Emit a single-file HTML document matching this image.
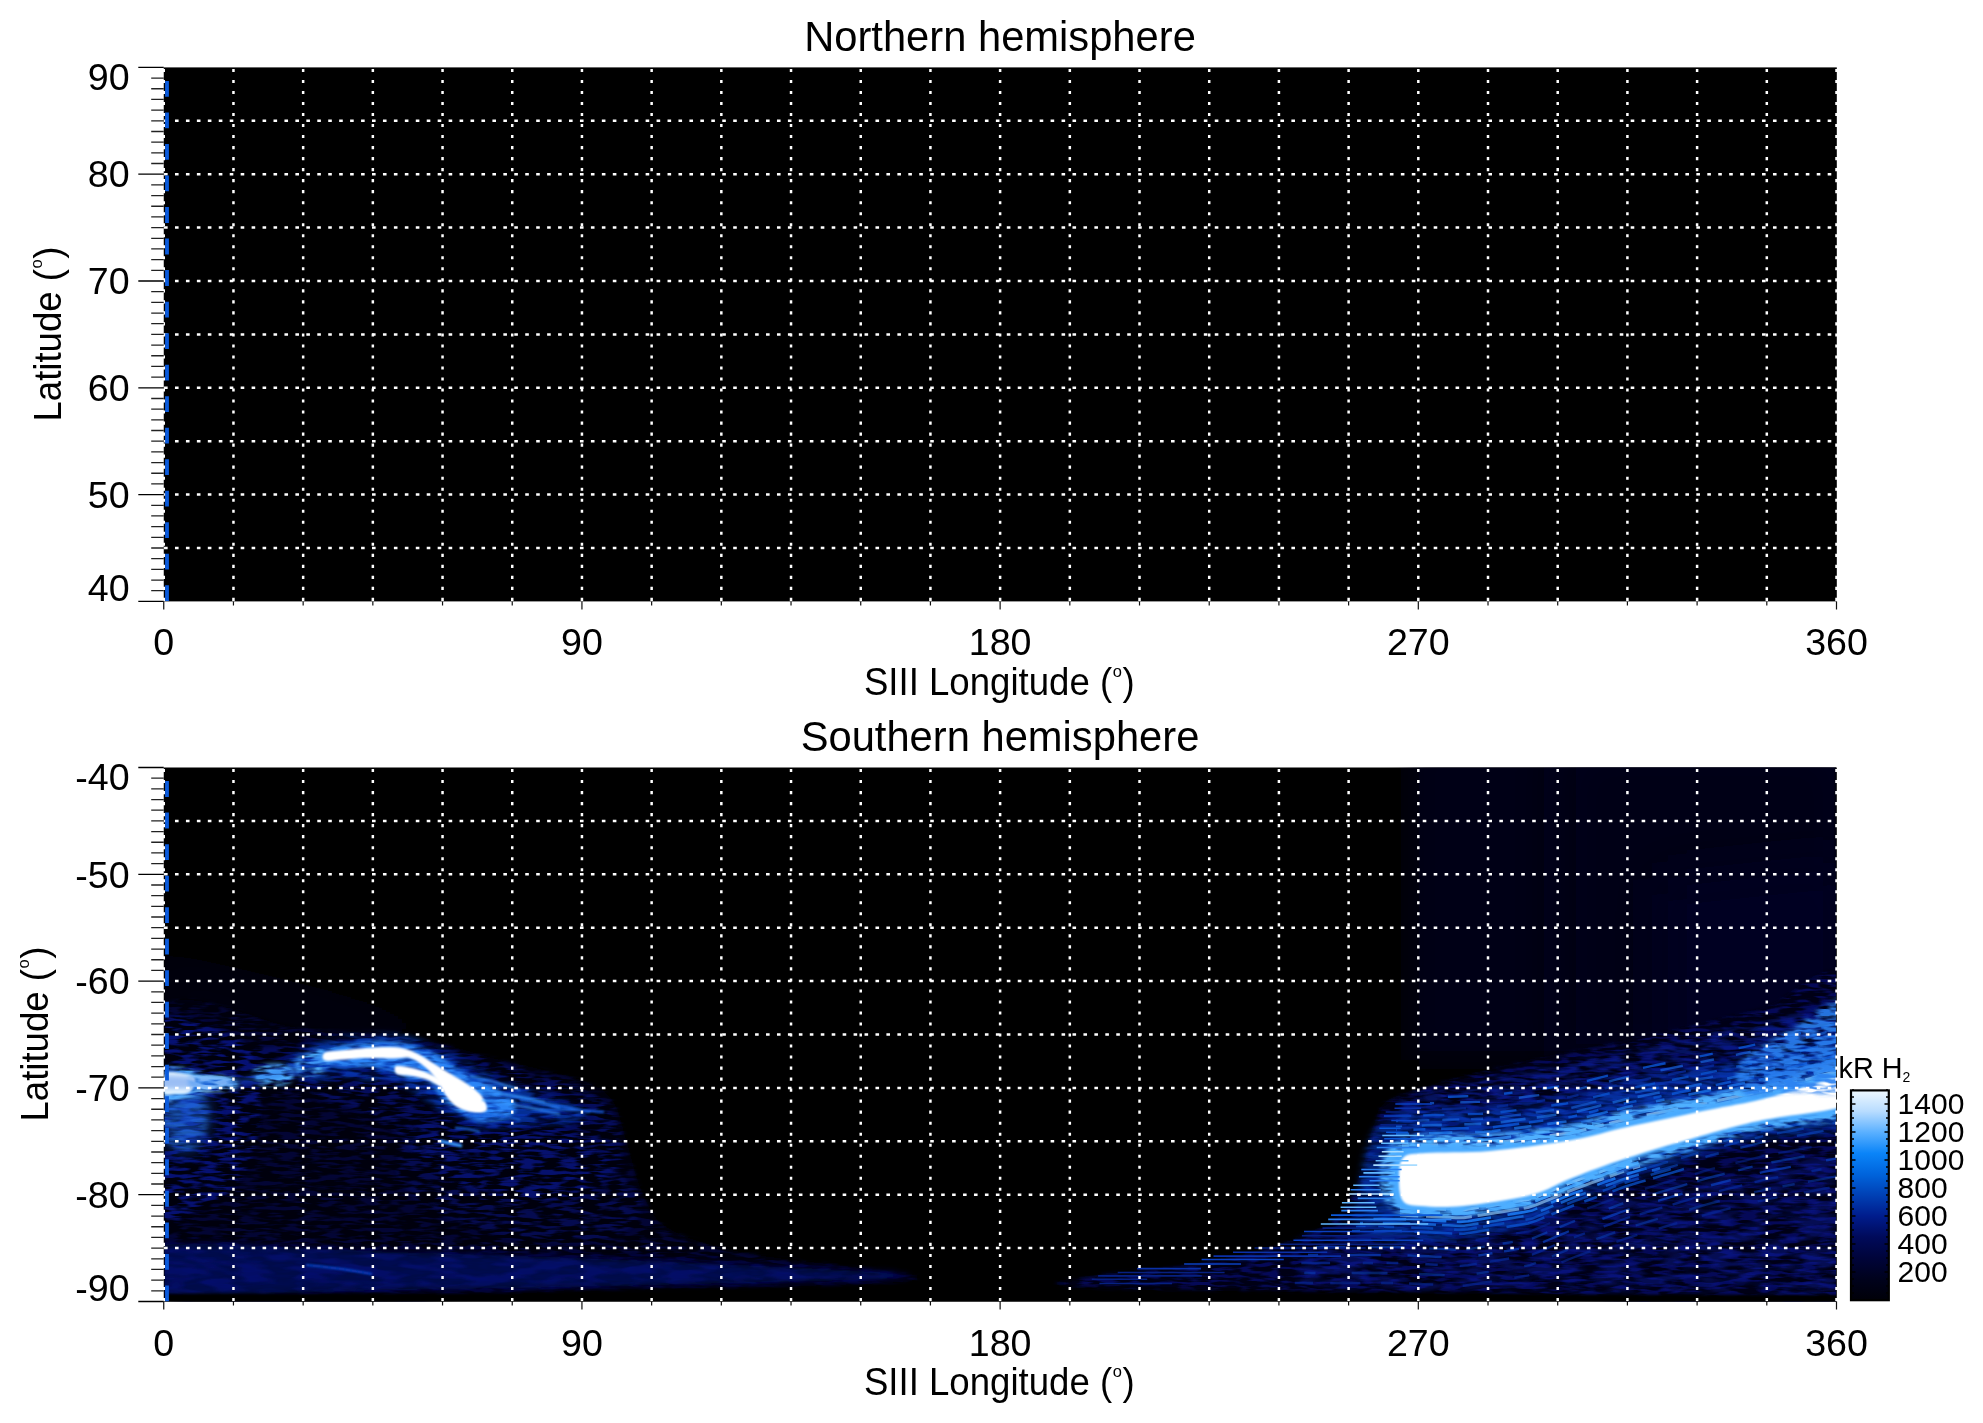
<!DOCTYPE html>
<html><head><meta charset="utf-8"><title>Aurora map</title>
<style>
html,body{margin:0;padding:0;background:#fff;width:1983px;height:1423px;overflow:hidden}
svg{display:block;will-change:transform}
text{font-family:"Liberation Sans", sans-serif;fill:#000}
.tl{font-size:37.6px}
.al{font-size:36.6px}
.ti{font-size:41.7px}
.cl{font-size:30px}
</style></head><body>
<svg width="1983" height="1423" viewBox="0 0 1983 1423">
<rect x="163.75" y="67.4" width="1673.05" height="534" fill="#000"/>

<path d="M164.05 120.8H1836.5M164.05 174.2H1836.5M164.05 227.6H1836.5M164.05 281H1836.5M164.05 334.4H1836.5M164.05 387.8H1836.5M164.05 441.2H1836.5M164.05 494.6H1836.5M164.05 548H1836.5" stroke="#fff" stroke-width="2.5" stroke-dasharray="3.6 7.345" fill="none"/>
<path d="M163.75 68.9V601.4M233.45 68.9V601.4M303.15 68.9V601.4M372.84 68.9V601.4M442.54 68.9V601.4M512.24 68.9V601.4M581.94 68.9V601.4M651.64 68.9V601.4M721.33 68.9V601.4M791.03 68.9V601.4M860.73 68.9V601.4M930.43 68.9V601.4M1000.12 68.9V601.4M1069.82 68.9V601.4M1139.52 68.9V601.4M1209.22 68.9V601.4M1278.92 68.9V601.4M1348.61 68.9V601.4M1418.31 68.9V601.4M1488.01 68.9V601.4M1557.71 68.9V601.4M1627.41 68.9V601.4M1697.1 68.9V601.4M1766.8 68.9V601.4M1836.5 68.9V601.4" stroke="#fff" stroke-width="2.5" stroke-dasharray="3.1 7.92" fill="none"/>
<line x1="167" y1="81" x2="167" y2="601.4" stroke="#0a5adc" stroke-width="3.8" stroke-dasharray="15.8 15.72"/>
<path d="M138.3 67.4H163.75M138.3 174.2H163.75M138.3 281H163.75M138.3 387.8H163.75M138.3 494.6H163.75M138.3 601.4H163.75" stroke="#000" stroke-width="1.3" fill="none"/>
<path d="M151.2 78.08H163.75M151.2 88.76H163.75M151.2 99.44H163.75M151.2 110.12H163.75M151.2 120.8H163.75M151.2 131.48H163.75M151.2 142.16H163.75M151.2 152.84H163.75M151.2 163.52H163.75M151.2 184.88H163.75M151.2 195.56H163.75M151.2 206.24H163.75M151.2 216.92H163.75M151.2 227.6H163.75M151.2 238.28H163.75M151.2 248.96H163.75M151.2 259.64H163.75M151.2 270.32H163.75M151.2 291.68H163.75M151.2 302.36H163.75M151.2 313.04H163.75M151.2 323.72H163.75M151.2 334.4H163.75M151.2 345.08H163.75M151.2 355.76H163.75M151.2 366.44H163.75M151.2 377.12H163.75M151.2 398.48H163.75M151.2 409.16H163.75M151.2 419.84H163.75M151.2 430.52H163.75M151.2 441.2H163.75M151.2 451.88H163.75M151.2 462.56H163.75M151.2 473.24H163.75M151.2 483.92H163.75M151.2 505.28H163.75M151.2 515.96H163.75M151.2 526.64H163.75M151.2 537.32H163.75M151.2 548H163.75M151.2 558.68H163.75M151.2 569.36H163.75M151.2 580.04H163.75M151.2 590.72H163.75" stroke="#222" stroke-width="1.3" fill="none"/>
<path d="M163.75 601.4V609.4M233.45 601.4V605.4M303.15 601.4V605.4M372.84 601.4V605.4M442.54 601.4V605.4M512.24 601.4V605.4M581.94 601.4V609.4M651.64 601.4V605.4M721.33 601.4V605.4M791.03 601.4V605.4M860.73 601.4V605.4M930.43 601.4V605.4M1000.12 601.4V609.4M1069.82 601.4V605.4M1139.52 601.4V605.4M1209.22 601.4V605.4M1278.92 601.4V605.4M1348.61 601.4V605.4M1418.31 601.4V609.4M1488.01 601.4V605.4M1557.71 601.4V605.4M1627.41 601.4V605.4M1697.1 601.4V605.4M1766.8 601.4V605.4M1836.5 601.4V609.4" stroke="#111" stroke-width="1.2" fill="none"/>
<text x="129.6" y="89.8" text-anchor="end" class="tl">90</text>
<text x="129.6" y="187.4" text-anchor="end" class="tl">80</text>
<text x="129.6" y="294.2" text-anchor="end" class="tl">70</text>
<text x="129.6" y="401" text-anchor="end" class="tl">60</text>
<text x="129.6" y="507.8" text-anchor="end" class="tl">50</text>
<text x="129.6" y="601.2" text-anchor="end" class="tl">40</text>
<text x="163.75" y="655.4" text-anchor="middle" class="tl">0</text>
<text x="581.94" y="655.4" text-anchor="middle" class="tl">90</text>
<text x="1000.12" y="655.4" text-anchor="middle" class="tl">180</text>
<text x="1418.31" y="655.4" text-anchor="middle" class="tl">270</text>
<text x="1836.5" y="655.4" text-anchor="middle" class="tl">360</text>
<text transform="translate(999.3 694.9) scale(1 1.045)" text-anchor="middle" class="al">SIII Longitude (<tspan font-size="16.5" dy="-17.6" dx="0.6">o</tspan><tspan dy="17.6" dx="0.6">)</tspan></text>
<text transform="translate(1000 50.85) scale(1 1.025)" text-anchor="middle" class="ti">Northern hemisphere</text>
<text transform="translate(60.8 334) rotate(-90) scale(1 1.045)" text-anchor="middle" class="al">Latitude (<tspan font-size="16.5" dy="-17.6" dx="0.6">o</tspan><tspan dy="17.6" dx="0.6">)</tspan></text>
<rect x="163.75" y="767.5" width="1673.05" height="534" fill="#000"/>
<defs>
<clipPath id="clipS"><rect x="164.6" y="767.5" width="1671.4" height="534"/></clipPath>
<filter id="b1" filterUnits="userSpaceOnUse" x="100" y="700" width="1800" height="650"><feGaussianBlur stdDeviation="1"/></filter>
<filter id="b2" filterUnits="userSpaceOnUse" x="100" y="700" width="1800" height="650"><feGaussianBlur stdDeviation="2"/></filter>
<filter id="b3" filterUnits="userSpaceOnUse" x="100" y="700" width="1800" height="650"><feGaussianBlur stdDeviation="3"/></filter>
<filter id="b5" filterUnits="userSpaceOnUse" x="100" y="700" width="1800" height="650"><feGaussianBlur stdDeviation="5"/></filter>
<filter id="b8" filterUnits="userSpaceOnUse" x="100" y="700" width="1800" height="650"><feGaussianBlur stdDeviation="8"/></filter>
<filter id="b14" filterUnits="userSpaceOnUse" x="100" y="700" width="1800" height="650"><feGaussianBlur stdDeviation="14"/></filter>
<filter id="b24" filterUnits="userSpaceOnUse" x="100" y="700" width="1800" height="650"><feGaussianBlur stdDeviation="24"/></filter>
<filter id="tA" filterUnits="userSpaceOnUse" x="100" y="700" width="1800" height="650"><feGaussianBlur in="SourceGraphic" stdDeviation="2" result="bl"/><feTurbulence type="fractalNoise" baseFrequency="0.05 0.28" numOctaves="2" seed="3" result="n"/><feColorMatrix in="n" type="matrix" values="0 0 0 0 1  0 0 0 0 1  0 0 0 0 1  5.0 0 0 0 -2.2" result="m"/><feComposite in="bl" in2="m" operator="in"/></filter>
<filter id="tB" filterUnits="userSpaceOnUse" x="100" y="700" width="1800" height="650"><feGaussianBlur in="SourceGraphic" stdDeviation="3" result="bl"/><feTurbulence type="fractalNoise" baseFrequency="0.045 0.22" numOctaves="2" seed="8" result="n"/><feColorMatrix in="n" type="matrix" values="0 0 0 0 1  0 0 0 0 1  0 0 0 0 1  4.0 0 0 0 -1.5" result="m"/><feComposite in="bl" in2="m" operator="in"/></filter>
<filter id="tC" filterUnits="userSpaceOnUse" x="100" y="700" width="1800" height="650"><feGaussianBlur in="SourceGraphic" stdDeviation="2" result="bl"/><feTurbulence type="fractalNoise" baseFrequency="0.06 0.25" numOctaves="2" seed="17" result="n"/><feColorMatrix in="n" type="matrix" values="0 0 0 0 1  0 0 0 0 1  0 0 0 0 1  3.5 0 0 0 -1.1" result="m"/><feComposite in="bl" in2="m" operator="in"/></filter>
<filter id="tD" filterUnits="userSpaceOnUse" x="100" y="700" width="1800" height="650"><feGaussianBlur in="SourceGraphic" stdDeviation="4" result="bl"/><feTurbulence type="fractalNoise" baseFrequency="0.03 0.12" numOctaves="2" seed="29" result="n"/><feColorMatrix in="n" type="matrix" values="0 0 0 0 1  0 0 0 0 1  0 0 0 0 1  4.0 0 0 0 -1.6" result="m"/><feComposite in="bl" in2="m" operator="in"/></filter>
</defs>
<g clip-path="url(#clipS)">
<path d="M150 950 C260 970 400 1010 520 1040 L150 1045Z" fill="#00000e" filter="url(#b24)"/>
<path d="M1410 740 L1850 740 L1850 1060 L1410 1060Z" fill="#000014" filter="url(#b14)"/>
<path d="M1560 740 L1850 740 L1850 1060 L1560 1060Z" fill="#000018" filter="url(#b24)"/>
<path d="M1660 880 L1850 860 L1850 1060 L1660 1060Z" fill="#000020" filter="url(#b24)"/>
<path d="M150 1018 C175 974 255 1024.3 300 1028 C345 1031.7 386.7 1034.7 420 1040 C453.3 1045.3 473.3 1053.3 500 1060 C526.7 1066.7 561.3 1073.3 580 1080 C598.7 1086.7 604.3 1090 612 1100 C619.7 1110 621 1124.7 626 1140 C631 1155.3 635 1177.3 642 1192 C649 1206.7 651.7 1218 668 1228 C684.3 1238 708 1245.3 740 1252 C772 1258.7 830 1263.8 860 1268 C890 1272.2 920 1274.3 920 1277 C920 1279.7 913.3 1282 860 1284 C806.7 1286 718.3 1287.7 600 1289 C481.7 1290.3 225 1337.2 150 1292 C75 1246.8 125 1062 150 1018Z" fill="#000210" filter="url(#b2)"/>
<path d="M1090 1277 C1108.3 1273.2 1166.7 1269.8 1200 1264 C1233.3 1258.2 1266.7 1250.3 1290 1242 C1313.3 1233.7 1328 1225.7 1340 1214 C1352 1202.3 1356 1187.3 1362 1172 C1368 1156.7 1370.3 1134.3 1376 1122 C1381.7 1109.7 1375.3 1107 1396 1098 C1416.7 1089 1457.7 1078.3 1500 1068 C1542.3 1057.7 1606.7 1045.7 1650 1036 C1693.3 1026.3 1726.7 1017.7 1760 1010 C1793.3 1002.3 1835 942.5 1850 990 C1865 1037.5 1908.3 1244.5 1850 1295 C1791.7 1345.5 1626.7 1294.3 1500 1293 C1373.3 1291.7 1158.3 1289.7 1090 1287 C1021.7 1284.3 1071.7 1280.8 1090 1277Z" fill="#000418" filter="url(#b2)"/>
<path d="M150 1018 C175 974 255 1024.3 300 1028 C345 1031.7 386.7 1034.7 420 1040 C453.3 1045.3 473.3 1053.3 500 1060 C526.7 1066.7 561.3 1073.3 580 1080 C598.7 1086.7 604.3 1090 612 1100 C619.7 1110 621 1124.7 626 1140 C631 1155.3 635 1177.3 642 1192 C649 1206.7 651.7 1218 668 1228 C684.3 1238 708 1245.3 740 1252 C772 1258.7 830 1263.8 860 1268 C890 1272.2 920 1274.3 920 1277 C920 1279.7 913.3 1282 860 1284 C806.7 1286 718.3 1287.7 600 1289 C481.7 1290.3 225 1337.2 150 1292 C75 1246.8 125 1062 150 1018Z" fill="#0818a8" filter="url(#tA)" opacity="0.26"/>
<path d="M1090 1277 C1108.3 1273.2 1166.7 1269.8 1200 1264 C1233.3 1258.2 1266.7 1250.3 1290 1242 C1313.3 1233.7 1328 1225.7 1340 1214 C1352 1202.3 1356 1187.3 1362 1172 C1368 1156.7 1370.3 1134.3 1376 1122 C1381.7 1109.7 1375.3 1107 1396 1098 C1416.7 1089 1457.7 1078.3 1500 1068 C1542.3 1057.7 1606.7 1045.7 1650 1036 C1693.3 1026.3 1726.7 1017.7 1760 1010 C1793.3 1002.3 1835 942.5 1850 990 C1865 1037.5 1908.3 1244.5 1850 1295 C1791.7 1345.5 1626.7 1294.3 1500 1293 C1373.3 1291.7 1158.3 1289.7 1090 1287 C1021.7 1284.3 1071.7 1280.8 1090 1277Z" fill="#0818a8" filter="url(#tA)" opacity="0.45"/>
<path d="M150 1030 C163.3 1000.7 211.7 1025.7 230 1034 C248.3 1042.3 256.7 1059 260 1080 C263.3 1101 257.5 1140 250 1160 C242.5 1180 231.7 1191.7 215 1200 C198.3 1208.3 160.8 1238.3 150 1210 C139.2 1181.7 136.7 1059.3 150 1030Z" fill="#0a24c0" filter="url(#tA)" opacity="0.45"/>
<path d="M250 1050 C270 1042.7 375 1042.7 420 1046 C465 1049.3 490 1061 520 1070 C550 1079 583.3 1085 600 1100 C616.7 1115 626.7 1143.3 620 1160 C613.3 1176.7 588.3 1196.7 560 1200 C531.7 1203.3 480 1193.3 450 1180 C420 1166.7 405 1135 380 1120 C355 1105 321.7 1101.7 300 1090 C278.3 1078.3 230 1057.3 250 1050Z" fill="#0a24c0" filter="url(#tA)" opacity="0.28"/>
<path d="M430 1120 C456.7 1111.7 525 1116.7 560 1130 C595 1143.3 633.3 1181.7 640 1200 C646.7 1218.3 626.7 1235 600 1240 C573.3 1245 513.3 1240 480 1230 C446.7 1220 408.3 1198.3 400 1180 C391.7 1161.7 403.3 1128.3 430 1120Z" fill="#0a20b0" filter="url(#tA)" opacity="0.22"/>
<path d="M150 1246 C191.7 1239.3 308.3 1249.2 400 1252 C491.7 1254.8 614.7 1259 700 1263 C785.3 1267 912 1272.5 912 1276 C912 1279.5 785.3 1281.7 700 1284 C614.7 1286.3 491.7 1288.7 400 1290 C308.3 1291.3 191.7 1299.3 150 1292 C108.3 1284.7 108.3 1252.7 150 1246Z" fill="#000a54" filter="url(#b3)" opacity="0.85"/>
<path d="M150 1246 C191.7 1239.3 308.3 1249.2 400 1252 C491.7 1254.8 614.7 1259 700 1263 C785.3 1267 912 1272.5 912 1276 C912 1279.5 785.3 1281.7 700 1284 C614.7 1286.3 491.7 1288.7 400 1290 C308.3 1291.3 191.7 1299.3 150 1292 C108.3 1284.7 108.3 1252.7 150 1246Z" fill="#0818a8" filter="url(#tD)" opacity="0.3"/>
<ellipse cx="184" cy="1115" rx="26" ry="38" fill="#1a68f0" filter="url(#b8)" opacity="0.45"/>
<ellipse cx="184" cy="1115" rx="24" ry="36" fill="#2a80f8" filter="url(#tB)" opacity="0.5"/>
<path d="M1300 1236 C1450 1238 1650 1190 1850 1150 L1850 1293 C1600 1291 1400 1290 1300 1286Z" fill="#0a24b0" filter="url(#tD)" opacity="0.4"/>
<path d="M1400 1098 C1550 1066 1700 1040 1850 1000 L1850 1110 C1700 1130 1550 1145 1400 1150Z" fill="#0a2ab8" filter="url(#tB)" opacity="0.45"/>
<path d="M1358 1205 C1359.3 1189.3 1363 1155.2 1370 1140 C1377 1124.8 1380 1119 1400 1114 C1420 1109 1461.3 1112.7 1490 1110 C1518.7 1107.3 1549.2 1102.5 1572 1098 C1594.8 1093.5 1604.3 1088 1627 1083 C1649.7 1078 1685.3 1072.5 1708 1068 C1730.7 1063.5 1739.3 1061.3 1763 1056 C1786.7 1050.7 1835.5 1025 1850 1036 C1864.5 1047 1864.5 1105 1850 1122 C1835.5 1139 1786.7 1133 1763 1138 C1739.3 1143 1730.7 1145 1708 1152 C1685.3 1159 1649.7 1171.7 1627 1180 C1604.3 1188.3 1588 1195 1572 1202 C1556 1209 1549.2 1216 1531 1222 C1512.8 1228 1484.8 1235 1463 1238 C1441.2 1241 1416.8 1240.7 1400 1240 C1383.2 1239.3 1369 1239.8 1362 1234 C1355 1228.2 1356.7 1220.7 1358 1205Z" fill="#0a58e8" filter="url(#tB)" opacity="0.4"/>
<path d="M1358 1205 C1359.3 1189.3 1363 1155.2 1370 1140 C1377 1124.8 1380 1119 1400 1114 C1420 1109 1461.3 1112.7 1490 1110 C1518.7 1107.3 1549.2 1102.5 1572 1098 C1594.8 1093.5 1604.3 1088 1627 1083 C1649.7 1078 1685.3 1072.5 1708 1068 C1730.7 1063.5 1739.3 1061.3 1763 1056 C1786.7 1050.7 1835.5 1025 1850 1036 C1864.5 1047 1864.5 1105 1850 1122 C1835.5 1139 1786.7 1133 1763 1138 C1739.3 1143 1730.7 1145 1708 1152 C1685.3 1159 1649.7 1171.7 1627 1180 C1604.3 1188.3 1588 1195 1572 1202 C1556 1209 1549.2 1216 1531 1222 C1512.8 1228 1484.8 1235 1463 1238 C1441.2 1241 1416.8 1240.7 1400 1240 C1383.2 1239.3 1369 1239.8 1362 1234 C1355 1228.2 1356.7 1220.7 1358 1205Z" fill="#0030a8" filter="url(#b5)" opacity="0.35"/>
<polyline points="1402 1149.9 1410 1149.7 1418 1149.5 1426 1149.3 1434 1149.1 1442 1148.9 1450 1148.7 1458 1148.5 1466 1148.2 1474 1148 1482 1147.8 1490 1147.6 1498 1146.5 1506 1145.5 1514 1144.4 1522 1143.3 1530 1142.3 1538 1141.2 1546 1140.2 1554 1139.1 1562 1138 1570 1137 1578 1135.2 1586 1133.2 1594 1131.2 1602 1129.2 1610 1127.2 1618 1125.2 1626 1123.2 1634 1121.6 1642 1120 1650 1118.4 1658 1116.8 1666 1115.2 1674 1113.5 1682 1111.9 1690 1110.3 1698 1108.7 1706 1107.1 1714 1105.4 1722 1103.7 1730 1102 1738 1100.3 1746 1098.6 1754 1096.9 1762 1095.2 1770 1093.1 1778 1091 1786 1088.9 1794 1086.8 1802 1084.7 1810 1082.6 1818 1080.5 1826 1078.3 1834 1076.2 1842 1074.1 1850 1072" fill="none" stroke="#60b8ff" stroke-width="3" stroke-dasharray="21.3 4.1 34.4 8.2 19.8 6.7 26.1 6.3 12 10.1 26 6.4 25.7 9 38.7 5.3 39.3 9.8 24.1 6.1 31 6.7 18.9 4.3 18.9 17.5 39.3 14.4" stroke-dashoffset="0.3" stroke-opacity="0.8"/>
<polyline points="1402 1145.9 1410 1145.7 1418 1145.5 1426 1145.3 1434 1145.1 1442 1144.9 1450 1144.7 1458 1144.5 1466 1144.2 1474 1144 1482 1143.8 1490 1143.6 1498 1142.5 1506 1141.5 1514 1140.4 1522 1139.3 1530 1138.3 1538 1137.2 1546 1136.2 1554 1135.1 1562 1134 1570 1133 1578 1131.2 1586 1129.2 1594 1127.2 1602 1125.2 1610 1123.2 1618 1121.2 1626 1119.2 1634 1117.6 1642 1116 1650 1114.4 1658 1112.8 1666 1111.2 1674 1109.5 1682 1107.9 1690 1106.3 1698 1104.7 1706 1103.1 1714 1101.4 1722 1099.7 1730 1098 1738 1096.3 1746 1094.6 1754 1092.9 1762 1091.2 1770 1089.1 1778 1087 1786 1084.9 1794 1082.8 1802 1080.7 1810 1078.6 1818 1076.5 1826 1074.3 1834 1072.2 1842 1070.1 1850 1068" fill="none" stroke="#a8dcff" stroke-width="3" stroke-dasharray="13.2 12.1 17.2 13.1 11.4 13.5 13.8 9.3 38.7 12.3 37.2 8.6 9.3 5.7 24 14.3 32.2 13.4 16.2 10.1 37.3 5.8 39.4 8.2 35.7 4.1 38.9 8.9" stroke-dashoffset="6.3" stroke-opacity="0.7"/>
<polyline points="1402 1141.9 1410 1141.7 1418 1141.5 1426 1141.3 1434 1141.1 1442 1140.9 1450 1140.7 1458 1140.5 1466 1140.2 1474 1140 1482 1139.8 1490 1139.6 1498 1138.5 1506 1137.5 1514 1136.4 1522 1135.3 1530 1134.3 1538 1133.2 1546 1132.2 1554 1131.1 1562 1130 1570 1129 1578 1127.2 1586 1125.2 1594 1123.2 1602 1121.2 1610 1119.2 1618 1117.2 1626 1115.2 1634 1113.6 1642 1112 1650 1110.4 1658 1108.8 1666 1107.2 1674 1105.5 1682 1103.9 1690 1102.3 1698 1100.7 1706 1099.1 1714 1097.4 1722 1095.7 1730 1094 1738 1092.3 1746 1090.6 1754 1088.9 1762 1087.2 1770 1085.1 1778 1083 1786 1080.9 1794 1078.8 1802 1076.7 1810 1074.6 1818 1072.5 1826 1070.3 1834 1068.2 1842 1066.1 1850 1064" fill="none" stroke="#3a9cff" stroke-width="3" stroke-dasharray="9.6 14 10.5 17.9 37.5 15 32.7 9.1 29.7 14.7 23.4 4.9 28 8.6 27.5 9.9 38.5 6.8 32.6 13.8 25.8 5.1 13.3 17.5 15.4 6.3 17.2 11.5" stroke-dashoffset="27.8" stroke-opacity="0.7"/>
<polyline points="1396 1138 1404 1137.9 1412 1137.7 1420 1137.5 1428 1137.3 1436 1137 1444 1136.8 1452 1136.6 1460 1136.4 1468 1136.2 1476 1136 1484 1135.8 1492 1135.3 1500 1134.3 1508 1133.2 1516 1132.1 1524 1131.1 1532 1130 1540 1129 1548 1127.9 1556 1126.8 1564 1125.8 1572 1124.7 1580 1122.7 1588 1120.7 1596 1118.7 1604 1116.7 1612 1114.7 1620 1112.7 1628 1110.8 1636 1109.2 1644 1107.6 1652 1106 1660 1104.4 1668 1102.7 1676 1101.1 1684 1099.5 1692 1097.9 1700 1096.3 1708 1094.7 1716 1093 1724 1091.3 1732 1089.6 1740 1087.9 1748 1086.2 1756 1084.5 1764 1082.7 1772 1080.6 1780 1078.5 1788 1076.4 1796 1074.3 1804 1072.2 1812 1070 1820 1067.9 1828 1065.8 1836 1063.7 1844 1061.6 1850 1060" fill="none" stroke="#0a58d8" stroke-width="2.6" stroke-dasharray="22.5 27.5 26.4 28.5 26.7 13.8 24.5 9.5 24.5 18.1 12 28.2 12.1 16.2 11.9 11.9 20.6 26.1 27.7 29.1 19.3 17.2 10.6 22.2 24.4 21.8 20.6 24.5" stroke-dashoffset="35.8" stroke-opacity="0.6"/>
<polyline points="1396 1134 1404 1133.9 1412 1133.7 1420 1133.5 1428 1133.3 1436 1133 1444 1132.8 1452 1132.6 1460 1132.4 1468 1132.2 1476 1132 1484 1131.8 1492 1131.3 1500 1130.3 1508 1129.2 1516 1128.1 1524 1127.1 1532 1126 1540 1125 1548 1123.9 1556 1122.8 1564 1121.8 1572 1120.7 1580 1118.7 1588 1116.7 1596 1114.7 1604 1112.7 1612 1110.7 1620 1108.7 1628 1106.8 1636 1105.2 1644 1103.6 1652 1102 1660 1100.4 1668 1098.7 1676 1097.1 1684 1095.5 1692 1093.9 1700 1092.3 1708 1090.7 1716 1089 1724 1087.3 1732 1085.6 1740 1083.9 1748 1082.2 1756 1080.5 1764 1078.7 1772 1076.6 1780 1074.5 1788 1072.4 1796 1070.3 1804 1068.2 1812 1066 1820 1063.9 1828 1061.8 1836 1059.7 1844 1057.6 1850 1056" fill="none" stroke="#1a78f0" stroke-width="2.6" stroke-dasharray="14.4 19.8 23.3 22.8 25.6 13.7 17.4 16 19.4 20.6 21.8 9.5 16.2 23.6 8.8 24.4 23.1 16.8 17.9 13.8 24.2 18.6 13.8 8.6 15.6 28.3 22.9 21.8" stroke-dashoffset="1.2" stroke-opacity="0.7"/>
<polyline points="1396 1130 1404 1129.9 1412 1129.7 1420 1129.5 1428 1129.3 1436 1129 1444 1128.8 1452 1128.6 1460 1128.4 1468 1128.2 1476 1128 1484 1127.8 1492 1127.3 1500 1126.3 1508 1125.2 1516 1124.1 1524 1123.1 1532 1122 1540 1121 1548 1119.9 1556 1118.8 1564 1117.8 1572 1116.7 1580 1114.7 1588 1112.7 1596 1110.7 1604 1108.7 1612 1106.7 1620 1104.7 1628 1102.8 1636 1101.2 1644 1099.6 1652 1098 1660 1096.4 1668 1094.7 1676 1093.1 1684 1091.5 1692 1089.9 1700 1088.3 1708 1086.7 1716 1085 1724 1083.3 1732 1081.6 1740 1079.9 1748 1078.2 1756 1076.5 1764 1074.7 1772 1072.6 1780 1070.5 1788 1068.4 1796 1066.3 1804 1064.2 1812 1062 1820 1059.9 1828 1057.8 1836 1055.7 1844 1053.6 1850 1052" fill="none" stroke="#0a58d8" stroke-width="2.6" stroke-dasharray="12.1 16.7 12 15.7 27.8 24 26.6 9.7 14.6 25.3 8.9 12.2 9.8 26 13.1 17.3 8.3 10.5 19.3 25.4 15.5 15 8.9 10.2 11.3 12.5 20.5 15.9" stroke-dashoffset="11.4" stroke-opacity="0.8"/>
<polyline points="1396 1126 1404 1125.9 1412 1125.7 1420 1125.5 1428 1125.3 1436 1125 1444 1124.8 1452 1124.6 1460 1124.4 1468 1124.2 1476 1124 1484 1123.8 1492 1123.3 1500 1122.3 1508 1121.2 1516 1120.1 1524 1119.1 1532 1118 1540 1117 1548 1115.9 1556 1114.8 1564 1113.8 1572 1112.7 1580 1110.7 1588 1108.7 1596 1106.7 1604 1104.7 1612 1102.7 1620 1100.7 1628 1098.8 1636 1097.2 1644 1095.6 1652 1094 1660 1092.4 1668 1090.7 1676 1089.1 1684 1087.5 1692 1085.9 1700 1084.3 1708 1082.7 1716 1081 1724 1079.3 1732 1077.6 1740 1075.9 1748 1074.2 1756 1072.5 1764 1070.7 1772 1068.6 1780 1066.5 1788 1064.4 1796 1062.3 1804 1060.2 1812 1058 1820 1055.9 1828 1053.8 1836 1051.7 1844 1049.6 1850 1048" fill="none" stroke="#1a78f0" stroke-width="2.6" stroke-dasharray="10 19.6 20.1 22.5 17 19.5 25.1 11.3 19.7 20.9 25.2 11.6 17.1 8.5 22.6 27.1 15.8 26 22.5 8.4 18.3 9 14.9 25.6 10.8 20.4 9.2 10.4" stroke-dashoffset="3.9" stroke-opacity="0.6"/>
<polyline points="1396 1121 1404 1120.9 1412 1120.7 1420 1120.5 1428 1120.3 1436 1120 1444 1119.8 1452 1119.6 1460 1119.4 1468 1119.2 1476 1119 1484 1118.8 1492 1118.3 1500 1117.3 1508 1116.2 1516 1115.1 1524 1114.1 1532 1113 1540 1112 1548 1110.9 1556 1109.8 1564 1108.8 1572 1107.7 1580 1105.7 1588 1103.7 1596 1101.7 1604 1099.7 1612 1097.7 1620 1095.7 1628 1093.8 1636 1092.2 1644 1090.6 1652 1089 1660 1087.4 1668 1085.7 1676 1084.1 1684 1082.5 1692 1080.9 1700 1079.3 1708 1077.7 1716 1076 1724 1074.3 1732 1072.6 1740 1070.9 1748 1069.2 1756 1067.5 1764 1065.7 1772 1063.6 1780 1061.5 1788 1059.4 1796 1057.3 1804 1055.2 1812 1053 1820 1050.9 1828 1048.8 1836 1046.7 1844 1044.6 1850 1043" fill="none" stroke="#1a70f0" stroke-width="2.4" stroke-dasharray="24.9 19.3 11.9 12.9 17 11.8 12 16.7 21.4 14.9 18.6 17.3 25.9 39.7 24.6 37 18 37.9 19.5 14.8 21.2 35.5 8.3 15.8 22.1 33 18.1 13.7" stroke-dashoffset="22.7" stroke-opacity="0.5"/>
<polyline points="1406 1115.8 1414 1115.6 1422 1115.4 1430 1115.2 1438 1115 1446 1114.8 1454 1114.6 1462 1114.3 1470 1114.1 1478 1113.9 1486 1113.7 1494 1113.1 1502 1112 1510 1110.9 1518 1109.9 1526 1108.8 1534 1107.8 1542 1106.7 1550 1105.6 1558 1104.6 1566 1103.5 1574 1102.2 1582 1100.2 1590 1098.2 1598 1096.2 1606 1094.2 1614 1092.2 1622 1090.2 1630 1088.4 1638 1086.8 1646 1085.2 1654 1083.6 1662 1082 1670 1080.3 1678 1078.7 1686 1077.1 1694 1075.5 1702 1073.9 1710 1072.3 1718 1070.6 1726 1068.9 1734 1067.2 1742 1065.5 1750 1063.8 1758 1062.1 1766 1060.2 1774 1058.1 1782 1056 1790 1053.9 1798 1051.7 1806 1049.6 1814 1047.5 1822 1045.4 1830 1043.3 1838 1041.2 1846 1039.1 1850 1038" fill="none" stroke="#0a58d8" stroke-width="2.4" stroke-dasharray="13 24.9 21.2 23.4 15.3 17.5 16.1 35.1 17.1 25.5 17.2 26.2 20.3 17.2 16.9 12.5 16.4 19.8 16 22.7 10.2 16.5 19.1 37.6 12.7 36.4 22 15.3" stroke-dashoffset="20.7" stroke-opacity="0.7"/>
<polyline points="1418 1109.5 1426 1109.3 1434 1109.1 1442 1108.9 1450 1108.7 1458 1108.5 1466 1108.2 1474 1108 1482 1107.8 1490 1107.6 1498 1106.5 1506 1105.5 1514 1104.4 1522 1103.3 1530 1102.3 1538 1101.2 1546 1100.2 1554 1099.1 1562 1098 1570 1097 1578 1095.2 1586 1093.2 1594 1091.2 1602 1089.2 1610 1087.2 1618 1085.2 1626 1083.2 1634 1081.6 1642 1080 1650 1078.4 1658 1076.8 1666 1075.2 1674 1073.5 1682 1071.9 1690 1070.3 1698 1068.7 1706 1067.1 1714 1065.4 1722 1063.7 1730 1062 1738 1060.3 1746 1058.6 1754 1056.9 1762 1055.2 1770 1053.1 1778 1051 1786 1048.9 1794 1046.8 1802 1044.7 1810 1042.6 1818 1040.5 1826 1038.3 1834 1036.2 1842 1034.1 1850 1032" fill="none" stroke="#062a9a" stroke-width="2.4" stroke-dasharray="8.4 38.2 24.2 30.8 11.6 28.8 8.5 21.9 11.9 26.8 12.5 12.8 22.3 17.5 18.1 10.5 18.1 33.7 22.1 19.9 10.3 28.3 13.5 18.6 11.8 21.8 20.3 22" stroke-dashoffset="22.8" stroke-opacity="0.8"/>
<polyline points="1430 1103.2 1438 1103 1446 1102.8 1454 1102.6 1462 1102.3 1470 1102.1 1478 1101.9 1486 1101.7 1494 1101.1 1502 1100 1510 1098.9 1518 1097.9 1526 1096.8 1534 1095.8 1542 1094.7 1550 1093.6 1558 1092.6 1566 1091.5 1574 1090.2 1582 1088.2 1590 1086.2 1598 1084.2 1606 1082.2 1614 1080.2 1622 1078.2 1630 1076.4 1638 1074.8 1646 1073.2 1654 1071.6 1662 1070 1670 1068.3 1678 1066.7 1686 1065.1 1694 1063.5 1702 1061.9 1710 1060.3 1718 1058.6 1726 1056.9 1734 1055.2 1742 1053.5 1750 1051.8 1758 1050.1 1766 1048.2 1774 1046.1 1782 1044 1790 1041.9 1798 1039.7 1806 1037.6 1814 1035.5 1822 1033.4 1830 1031.3 1838 1029.2 1846 1027.1 1850 1026" fill="none" stroke="#1a70f0" stroke-width="2.4" stroke-dasharray="17 26.1 19.8 39.1 20.6 37.5 10.9 22.7 20.7 32 22.9 18 13.7 22.4 15.1 12.8 15 29.3 21.3 16.9 19.2 32.5 10.8 10.4 10.9 30.4 24.4 21.6" stroke-dashoffset="12.9" stroke-opacity="0.6"/>
<polyline points="1442 1096.9 1450 1096.7 1458 1096.5 1466 1096.2 1474 1096 1482 1095.8 1490 1095.6 1498 1094.5 1506 1093.5 1514 1092.4 1522 1091.3 1530 1090.3 1538 1089.2 1546 1088.2 1554 1087.1 1562 1086 1570 1085 1578 1083.2 1586 1081.2 1594 1079.2 1602 1077.2 1610 1075.2 1618 1073.2 1626 1071.2 1634 1069.6 1642 1068 1650 1066.4 1658 1064.8 1666 1063.2 1674 1061.5 1682 1059.9 1690 1058.3 1698 1056.7 1706 1055.1 1714 1053.4 1722 1051.7 1730 1050 1738 1048.3 1746 1046.6 1754 1044.9 1762 1043.2 1770 1041.1 1778 1039 1786 1036.9 1794 1034.8 1802 1032.7 1810 1030.6 1818 1028.5 1826 1026.3 1834 1024.2 1842 1022.1 1850 1020" fill="none" stroke="#0a58d8" stroke-width="2.4" stroke-dasharray="15.7 20.6 20.4 35.9 8.5 30.1 17 28.2 21.8 35.9 23 34.8 13.4 26.4 17 30.8 16.4 21 15.4 24.2 19.1 20.2 13.3 39.1 12.1 22.5 24.5 14.5" stroke-dashoffset="30.4" stroke-opacity="0.8"/>
<polyline points="1400 1207 1408 1207.4 1416 1207.8 1424 1208.1 1432 1208.5 1440 1208.9 1448 1209.3 1456 1209.7 1464 1209.8 1472 1208.5 1480 1207.2 1488 1206 1496 1204.7 1504 1203.4 1512 1202.1 1520 1200.8 1528 1199.5 1536 1196.9 1544 1193.6 1552 1190.3 1560 1187 1568 1183.7 1576 1180.5 1584 1177.6 1592 1174.7 1600 1171.8 1608 1168.9 1616 1166 1624 1163.1 1632 1160.5 1640 1158.1" fill="none" stroke="#a8dcff" stroke-width="3" stroke-dasharray="48.1 4.4 28.5 7.1 22 5.4 18.3 5.9 23.7 8.9 24.7 9.7 35.1 6.8 28.7 9.4 35.6 7.8 26 5.8 21 6.2 17.1 4.4 33.5 10.7 22.4 5.8" stroke-dashoffset="1.9" stroke-opacity="0.9"/>
<polyline points="1400 1211 1408 1211.4 1416 1211.8 1424 1212.1 1432 1212.5 1440 1212.9 1448 1213.3 1456 1213.7 1464 1213.8 1472 1212.5 1480 1211.2 1488 1210 1496 1208.7 1504 1207.4 1512 1206.1 1520 1204.8 1528 1203.5 1536 1200.9 1544 1197.6 1552 1194.3 1560 1191 1568 1187.7 1576 1184.5 1584 1181.6 1592 1178.7 1600 1175.8 1608 1172.9 1616 1170 1624 1167.1 1632 1164.5 1640 1162.1" fill="none" stroke="#3a9cff" stroke-width="3" stroke-dasharray="46.9 11.7 23.2 13.6 43.3 4.5 16.3 7.2 35.3 3.3 48.4 10.4 33.1 8.4 18.7 11.2 41 3.2 43.2 6.9 47.7 6.8 22.4 5.2 26.6 3.8 20.7 8.2" stroke-dashoffset="6.8" stroke-opacity="0.9"/>
<polyline points="1400 1215 1408 1215.4 1416 1215.8 1424 1216.1 1432 1216.5 1440 1216.9 1448 1217.3 1456 1217.7 1464 1217.8 1472 1216.5 1480 1215.2 1488 1214 1496 1212.7 1504 1211.4 1512 1210.1 1520 1208.8 1528 1207.5 1536 1204.9 1544 1201.6 1552 1198.3 1560 1195 1568 1191.7 1576 1188.5 1584 1185.6 1592 1182.7 1600 1179.8 1608 1176.9 1616 1174 1624 1171.1 1632 1168.5 1640 1166.1" fill="none" stroke="#a8dcff" stroke-width="3" stroke-dasharray="28.5 7.9 45.9 5.8 42 4.7 40.7 5.8 39.2 6.2 15.1 9.2 39.9 9.1 28.2 12.9 18.8 8.9 31.2 8.5 17.6 12.2 18.8 4.2 20.3 11.3 16.6 10" stroke-dashoffset="10.3" stroke-opacity="0.6"/>
<polyline points="1364 1219 1372 1219 1380 1219 1388 1219 1396 1219 1404 1219.2 1412 1219.6 1420 1220 1428 1220.3 1436 1220.7 1444 1221.1 1452 1221.5 1460 1221.9 1468 1221.2 1476 1219.9 1484 1218.6 1492 1217.3 1500 1216 1508 1214.7 1516 1213.4 1524 1212.1 1532 1210.6 1540 1207.3 1548 1204 1556 1200.6 1564 1197.3 1572 1194 1580 1191.1 1588 1188.2 1596 1185.3 1604 1182.4 1612 1179.5 1620 1176.5 1628 1173.7 1636 1171.3 1644 1169 1648 1167.8" fill="none" stroke="#1a78f0" stroke-width="2.6" stroke-dasharray="26.6 18.9 32.8 16.2 24 10.5 34.5 16.7 30.6 14.9 34.1 15.4 19.4 12 20.7 10.7 37.2 17.4 29.2 13.2 25.6 7.7 25.3 15.4 21.8 14.1 40 20.6" stroke-dashoffset="36.1" stroke-opacity="0.9"/>
<polyline points="1360 1223 1368 1223 1376 1223 1384 1223 1392 1223 1400 1223 1408 1223.4 1416 1223.8 1424 1224.1 1432 1224.5 1440 1224.9 1448 1225.3 1456 1225.7 1464 1225.8 1472 1224.5 1480 1223.2 1488 1222 1496 1220.7 1504 1219.4 1512 1218.1 1520 1216.8 1528 1215.5 1536 1212.9 1544 1209.6 1552 1206.3 1560 1203 1568 1199.7 1576 1196.5 1584 1193.6 1592 1190.7 1600 1187.8 1608 1184.9 1616 1182 1624 1179.1 1632 1176.5 1640 1174.1 1648 1171.8 1656 1169.4 1660 1168.2" fill="none" stroke="#1a78f0" stroke-width="2.6" stroke-dasharray="28.3 19.8 27.5 8.8 16.9 6.1 36.7 8.1 37.5 18.1 13.6 8 26.9 21.3 34.8 13.7 28.4 11.4 14.6 6.2 23.5 10.9 39.3 7.2 38.7 13.2 39.3 17.8" stroke-dashoffset="25.3" stroke-opacity="0.7"/>
<polyline points="1356 1227 1364 1227 1372 1227 1380 1227 1388 1227 1396 1227 1404 1227.2 1412 1227.6 1420 1228 1428 1228.3 1436 1228.7 1444 1229.1 1452 1229.5 1460 1229.9 1468 1229.2 1476 1227.9 1484 1226.6 1492 1225.3 1500 1224 1508 1222.7 1516 1221.4 1524 1220.1 1532 1218.6 1540 1215.3 1548 1212 1556 1208.6 1564 1205.3 1572 1202 1580 1199.1 1588 1196.2 1596 1193.3 1604 1190.4 1612 1187.5 1620 1184.5 1628 1181.7 1636 1179.3 1644 1177 1652 1174.6 1660 1172.2 1668 1169.9 1672 1168.7" fill="none" stroke="#0a58d8" stroke-width="2.6" stroke-dasharray="35.9 12.6 16 17 22 21 22.9 6.2 21.6 21.4 25.4 19.2 22.3 15.7 14.1 9.2 14.9 12.4 21.1 14.9 30.2 9.8 19.5 6.4 15.4 12.1 37.2 9" stroke-dashoffset="26.3" stroke-opacity="0.6"/>
<polyline points="1352 1231 1360 1231 1368 1231 1376 1231 1384 1231 1392 1231 1400 1231 1408 1231.4 1416 1231.8 1424 1232.1 1432 1232.5 1440 1232.9 1448 1233.3 1456 1233.7 1464 1233.8 1472 1232.5 1480 1231.2 1488 1230 1496 1228.7 1504 1227.4 1512 1226.1 1520 1224.8 1528 1223.5 1536 1220.9 1544 1217.6 1552 1214.3 1560 1211 1568 1207.7 1576 1204.5 1584 1201.6 1592 1198.7 1600 1195.8 1608 1192.9 1616 1190 1624 1187.1 1632 1184.5 1640 1182.1 1648 1179.8 1656 1177.4 1664 1175 1672 1172.7 1680 1170.3 1684 1169.1" fill="none" stroke="#0a58d8" stroke-width="2.6" stroke-dasharray="24.5 14 27.8 12.7 37.8 6.9 30.4 17.5 39.3 7.6 24.4 10.9 13.4 16.6 34.9 7.7 33.3 13.2 34.6 20.4 14.4 19 24.3 21.2 24.3 21.7 36 11.2" stroke-dashoffset="16.5" stroke-opacity="0.7"/>
<polyline points="1600 1173.8 1608 1170.9 1616 1168 1624 1165.1 1632 1162.5 1640 1160.1 1648 1157.8 1656 1155.4 1664 1153 1672 1150.7 1680 1148.3 1688 1145.9 1696 1143.6 1704 1141.2 1712 1139 1720 1136.9 1728 1134.9 1736 1132.9 1744 1130.8 1752 1128.8 1760 1126.8 1768 1125.1 1776 1123.6 1784 1122.1 1792 1120.7 1800 1119.2 1808 1117.7 1816 1116.3 1824 1114.8 1832 1113.3 1840 1111.8 1848 1110.4 1850 1110" fill="none" stroke="#1a70f0" stroke-width="2.4" stroke-dasharray="13.8 18.1 9.8 29.6 18.8 28.3 20.6 12.2 13.9 18 25.2 18.7 29.2 29.9 23.2 23.3 23.2 18.5 10.2 31.5 18.1 34 24.1 24.4 17.4 27.2 13.3 18.8" stroke-dashoffset="17.4" stroke-opacity="0.6"/>
<polyline points="1600 1178.8 1608 1175.9 1616 1173 1624 1170.1 1632 1167.5 1640 1165.1 1648 1162.8 1656 1160.4 1664 1158 1672 1155.7 1680 1153.3 1688 1150.9 1696 1148.6 1704 1146.2 1712 1144 1720 1141.9 1728 1139.9 1736 1137.9 1744 1135.8 1752 1133.8 1760 1131.8 1768 1130.1 1776 1128.6 1784 1127.1 1792 1125.7 1800 1124.2 1808 1122.7 1816 1121.3 1824 1119.8 1832 1118.3 1840 1116.8 1848 1115.4 1850 1115" fill="none" stroke="#0a50d0" stroke-width="2.4" stroke-dasharray="19.6 29.7 23.6 28.3 28.2 31.2 8.5 30 13.3 10.9 16.2 31.3 8 30.3 14.4 19.9 19 14.5 23.2 18.3 26.3 20.6 13.4 14.8 18.3 30.8 13.1 32.3" stroke-dashoffset="31.7" stroke-opacity="0.6"/>
<polyline points="1600 1183.8 1608 1180.9 1616 1178 1624 1175.1 1632 1172.5 1640 1170.1 1648 1167.8 1656 1165.4 1664 1163 1672 1160.7 1680 1158.3 1688 1155.9 1696 1153.6 1704 1151.2 1712 1149 1720 1146.9 1728 1144.9 1736 1142.9 1744 1140.8 1752 1138.8 1760 1136.8 1768 1135.1 1776 1133.6 1784 1132.1 1792 1130.7 1800 1129.2 1808 1127.7 1816 1126.3 1824 1124.8 1832 1123.3 1840 1121.8 1848 1120.4 1850 1120" fill="none" stroke="#0a50d0" stroke-width="2.4" stroke-dasharray="11.9 11 28.7 30.9 28.5 13.5 18.3 26.6 15.8 15.7 8.7 14 27.2 29.4 10.6 24.9 20.7 32.2 25.1 22.7 12.6 12.1 12.3 15.2 11.5 14.4 16.2 30.1" stroke-dashoffset="39.5" stroke-opacity="0.5"/>
<polyline points="1600 1189.8 1608 1186.9 1616 1184 1624 1181.1 1632 1178.5 1640 1176.1 1648 1173.8 1656 1171.4 1664 1169 1672 1166.7 1680 1164.3 1688 1161.9 1696 1159.6 1704 1157.2 1712 1155 1720 1152.9 1728 1150.9 1736 1148.9 1744 1146.8 1752 1144.8 1760 1142.8 1768 1141.1 1776 1139.6 1784 1138.1 1792 1136.7 1800 1135.2 1808 1133.7 1816 1132.3 1824 1130.8 1832 1129.3 1840 1127.8 1848 1126.4 1850 1126" fill="none" stroke="#0a50d0" stroke-width="2.4" stroke-dasharray="15.5 29.5 19.1 24.2 24.8 28.8 13.8 22.2 25.8 32.1 27.1 30 22.5 10.7 16 27.7 13.3 11.6 21.1 29.2 29.9 28.2 17.9 10.8 23 32.3 19.4 24.1" stroke-dashoffset="31.4" stroke-opacity="0.5"/>
<polyline points="1324 1239 1332 1239 1340 1239 1348 1239 1356 1239 1364 1239 1372 1239 1380 1239 1388 1239 1396 1239 1404 1239.2 1412 1239.6 1420 1240 1428 1240.3 1436 1240.7 1444 1241.1 1452 1241.5 1460 1241.9 1468 1241.2 1476 1239.9 1484 1238.6 1492 1237.3 1500 1236 1508 1234.7 1516 1233.4 1524 1232.1 1532 1230.6 1540 1227.3 1548 1224 1556 1220.6 1564 1217.3 1572 1214 1580 1211.1 1588 1208.2 1596 1205.3 1604 1202.4 1612 1199.5 1620 1196.5 1628 1193.7 1636 1191.3 1644 1189 1652 1186.6 1660 1184.2 1668 1181.9 1676 1179.5 1684 1177.1 1692 1174.7 1700 1172.4 1708 1170 1716 1168 1724 1165.9 1732 1163.9 1740 1161.9 1748 1159.8 1756 1157.8 1764 1155.8 1772 1154.3 1780 1152.9 1788 1151.4 1796 1149.9 1804 1148.5 1812 1147 1820 1145.5 1828 1144 1836 1142.6 1844 1141.1 1850 1140" fill="none" stroke="#062a9a" stroke-width="2.4" stroke-dasharray="21.1 39.6 23.5 10.5 12.8 36 26.1 19.1 13.5 27.6 35.7 39.9 28.4 32.5 32.3 19.9 20.9 21.1 30 14 33.9 23.4 29.7 36.6 21.1 36.6 22.9 32.4" stroke-dashoffset="36.9" stroke-opacity="0.5"/>
<polyline points="1316 1247 1324 1247 1332 1247 1340 1247 1348 1247 1356 1247 1364 1247 1372 1247 1380 1247 1388 1247 1396 1247 1404 1247.2 1412 1247.6 1420 1248 1428 1248.3 1436 1248.7 1444 1249.1 1452 1249.5 1460 1249.9 1468 1249.2 1476 1247.9 1484 1246.6 1492 1245.3 1500 1244 1508 1242.7 1516 1241.4 1524 1240.1 1532 1238.6 1540 1235.3 1548 1232 1556 1228.6 1564 1225.3 1572 1222 1580 1219.1 1588 1216.2 1596 1213.3 1604 1210.4 1612 1207.5 1620 1204.5 1628 1201.7 1636 1199.3 1644 1197 1652 1194.6 1660 1192.2 1668 1189.9 1676 1187.5 1684 1185.1 1692 1182.7 1700 1180.4 1708 1178 1716 1176 1724 1173.9 1732 1171.9 1740 1169.9 1748 1167.8 1756 1165.8 1764 1163.8 1772 1162.3 1780 1160.9 1788 1159.4 1796 1157.9 1804 1156.5 1812 1155 1820 1153.5 1828 1152 1836 1150.6 1844 1149.1 1850 1148" fill="none" stroke="#0a50d0" stroke-width="2.4" stroke-dasharray="33.9 22.4 35 26.3 26.7 10.3 18.8 18.2 10.3 19.4 16.7 13.3 16.6 35.8 15.6 31 35.8 10.3 28.5 14 14.8 19.2 33.9 36.3 12.4 33.7 12.2 20.8" stroke-dashoffset="4.4" stroke-opacity="0.5"/>
<polyline points="1308 1255 1316 1255 1324 1255 1332 1255 1340 1255 1348 1255 1356 1255 1364 1255 1372 1255 1380 1255 1388 1255 1396 1255 1404 1255.2 1412 1255.6 1420 1256 1428 1256.3 1436 1256.7 1444 1257.1 1452 1257.5 1460 1257.9 1468 1257.2 1476 1255.9 1484 1254.6 1492 1253.3 1500 1252 1508 1250.7 1516 1249.4 1524 1248.1 1532 1246.6 1540 1243.3 1548 1240 1556 1236.6 1564 1233.3 1572 1230 1580 1227.1 1588 1224.2 1596 1221.3 1604 1218.4 1612 1215.5 1620 1212.5 1628 1209.7 1636 1207.3 1644 1205 1652 1202.6 1660 1200.2 1668 1197.9 1676 1195.5 1684 1193.1 1692 1190.7 1700 1188.4 1708 1186 1716 1184 1724 1181.9 1732 1179.9 1740 1177.9 1748 1175.8 1756 1173.8 1764 1171.8 1772 1170.3 1780 1168.9 1788 1167.4 1796 1165.9 1804 1164.5 1812 1163 1820 1161.5 1828 1160 1836 1158.6 1844 1157.1 1850 1156" fill="none" stroke="#0a40c0" stroke-width="2.4" stroke-dasharray="20.9 30.3 32.3 26.7 34.2 36.9 14.3 11.7 15.1 25.2 28.1 35.6 29 29.6 25.6 29.6 20.4 29.9 31.7 35.7 28.7 30.3 11.9 19.8 21.8 19.2 15.2 21.2" stroke-dashoffset="10.7" stroke-opacity="0.7"/>
<polyline points="1300 1263 1308 1263 1316 1263 1324 1263 1332 1263 1340 1263 1348 1263 1356 1263 1364 1263 1372 1263 1380 1263 1388 1263 1396 1263 1404 1263.2 1412 1263.6 1420 1264 1428 1264.3 1436 1264.7 1444 1265.1 1452 1265.5 1460 1265.9 1468 1265.2 1476 1263.9 1484 1262.6 1492 1261.3 1500 1260 1508 1258.7 1516 1257.4 1524 1256.1 1532 1254.6 1540 1251.3 1548 1248 1556 1244.6 1564 1241.3 1572 1238 1580 1235.1 1588 1232.2 1596 1229.3 1604 1226.4 1612 1223.5 1620 1220.5 1628 1217.7 1636 1215.3 1644 1213 1652 1210.6 1660 1208.2 1668 1205.9 1676 1203.5 1684 1201.1 1692 1198.7 1700 1196.4 1708 1194 1716 1192 1724 1189.9 1732 1187.9 1740 1185.9 1748 1183.8 1756 1181.8 1764 1179.8 1772 1178.3 1780 1176.9 1788 1175.4 1796 1173.9 1804 1172.5 1812 1171 1820 1169.5 1828 1168 1836 1166.6 1844 1165.1 1850 1164" fill="none" stroke="#062a9a" stroke-width="2.4" stroke-dasharray="10.2 22.7 28.8 32.6 10.3 13.5 11.8 27 12.5 21.9 17.3 13.1 19.7 23.1 25 20.4 11.8 19.9 28 10.1 23.6 10.6 32.5 15.9 23.9 12.7 24.2 33.8" stroke-dashoffset="31.6" stroke-opacity="0.7"/>
<polyline points="1290 1273 1298 1273 1306 1273 1314 1273 1322 1273 1330 1273 1338 1273 1346 1273 1354 1273 1362 1273 1370 1273 1378 1273 1386 1273 1394 1273 1402 1273.1 1410 1273.5 1418 1273.9 1426 1274.2 1434 1274.6 1442 1275 1450 1275.4 1458 1275.8 1466 1275.5 1474 1274.2 1482 1272.9 1490 1271.6 1498 1270.3 1506 1269 1514 1267.8 1522 1266.5 1530 1265.2 1538 1262.1 1546 1258.8 1554 1255.5 1562 1252.1 1570 1248.8 1578 1245.8 1586 1242.9 1594 1240 1602 1237.1 1610 1234.2 1618 1231.3 1626 1228.4 1634 1225.9 1642 1223.6 1650 1221.2 1658 1218.8 1666 1216.4 1674 1214.1 1682 1211.7 1690 1209.3 1698 1207 1706 1204.6 1714 1202.5 1722 1200.4 1730 1198.4 1738 1196.4 1746 1194.3 1754 1192.3 1762 1190.3 1770 1188.7 1778 1187.2 1786 1185.8 1794 1184.3 1802 1182.8 1810 1181.4 1818 1179.9 1826 1178.4 1834 1176.9 1842 1175.5 1850 1174" fill="none" stroke="#0a50d0" stroke-width="2.4" stroke-dasharray="10.2 34.2 11.3 36.1 35.9 31.5 25.8 32 12.3 35.9 12.3 17.2 17 30.6 20.2 21.6 23.1 32.6 31.8 35.4 17.4 11.6 12.5 13.4 29.4 12.5 29.7 10.1" stroke-dashoffset="30.2" stroke-opacity="0.4"/>
<polyline points="1280 1283 1288 1283 1296 1283 1304 1283 1312 1283 1320 1283 1328 1283 1336 1283 1344 1283 1352 1283 1360 1283 1368 1283 1376 1283 1384 1283 1392 1283 1400 1283 1408 1283.4 1416 1283.8 1424 1284.1 1432 1284.5 1440 1284.9 1448 1285.3 1456 1285.7 1464 1285.8 1472 1284.5 1480 1283.2 1488 1282 1496 1280.7 1504 1279.4 1512 1278.1 1520 1276.8 1528 1275.5 1536 1272.9 1544 1269.6 1552 1266.3 1560 1263 1568 1259.7 1576 1256.5 1584 1253.6 1592 1250.7 1600 1247.8 1608 1244.9 1616 1242 1624 1239.1 1632 1236.5 1640 1234.1 1648 1231.8 1656 1229.4 1664 1227 1672 1224.7 1680 1222.3 1688 1219.9 1696 1217.6 1704 1215.2 1712 1213 1720 1210.9 1728 1208.9 1736 1206.9 1744 1204.8 1752 1202.8 1760 1200.8 1768 1199.1 1776 1197.6 1784 1196.1 1792 1194.7 1800 1193.2 1808 1191.7 1816 1190.3 1824 1188.8 1832 1187.3 1840 1185.8 1848 1184.4 1850 1184" fill="none" stroke="#062a9a" stroke-width="2.4" stroke-dasharray="14.8 20.6 18.3 17.1 30.2 20.7 12 15.9 24.2 29.5 29.6 22.7 15.2 34.6 31.1 27.6 22.1 22.2 19.5 25.5 29.7 28 20.2 26.7 26.4 10.3 18.6 13.5" stroke-dashoffset="20.6" stroke-opacity="0.6"/>
<path d="M290 1058 C296.7 1051.3 321.7 1041.7 340 1038 C358.3 1034.3 382.5 1033.7 400 1036 C417.5 1038.3 428.3 1044.7 445 1052 C461.7 1059.3 480.8 1072 500 1080 C519.2 1088 545.8 1093.7 560 1100 C574.2 1106.3 590 1114 585 1118 C580 1122 547.5 1122.7 530 1124 C512.5 1125.3 495 1128.7 480 1126 C465 1123.3 453.3 1115 440 1108 C426.7 1101 416.7 1089 400 1084 C383.3 1079 356.7 1079 340 1078 C323.3 1077 308.3 1081.3 300 1078 C291.7 1074.7 283.3 1064.7 290 1058Z" fill="#0a58e8" filter="url(#tB)" opacity="0.6"/>
<path d="M290 1058 C296.7 1051.3 321.7 1041.7 340 1038 C358.3 1034.3 382.5 1033.7 400 1036 C417.5 1038.3 428.3 1044.7 445 1052 C461.7 1059.3 480.8 1072 500 1080 C519.2 1088 545.8 1093.7 560 1100 C574.2 1106.3 590 1114 585 1118 C580 1122 547.5 1122.7 530 1124 C512.5 1125.3 495 1128.7 480 1126 C465 1123.3 453.3 1115 440 1108 C426.7 1101 416.7 1089 400 1084 C383.3 1079 356.7 1079 340 1078 C323.3 1077 308.3 1081.3 300 1078 C291.7 1074.7 283.3 1064.7 290 1058Z" fill="#0020a0" filter="url(#b5)" opacity="0.3"/>
<path d="M1380 1184 C1378.3 1172.7 1381.7 1154.3 1390 1146 C1398.3 1137.7 1413.3 1136 1430 1134 C1446.7 1132 1466.3 1135.7 1490 1134 C1513.7 1132.3 1549.2 1128 1572 1124 C1594.8 1120 1604.3 1115 1627 1110 C1649.7 1105 1685.3 1098.3 1708 1094 C1730.7 1089.7 1739.3 1089.7 1763 1084 C1786.7 1078.3 1835.5 1055 1850 1060 C1864.5 1065 1864.5 1102.3 1850 1114 C1835.5 1125.7 1786.7 1124.8 1763 1130 C1739.3 1135.2 1730.7 1138.3 1708 1145 C1685.3 1151.7 1649.7 1162.5 1627 1170 C1604.3 1177.5 1588 1184 1572 1190 C1556 1196 1549.2 1201.7 1531 1206 C1512.8 1210.3 1484.8 1214.7 1463 1216 C1441.2 1217.3 1413.8 1219.3 1400 1214 C1386.2 1208.7 1381.7 1195.3 1380 1184Z" fill="#50b0ff" filter="url(#tC)"/>
<path d="M1392 1180 C1391.7 1170.3 1391.7 1155.8 1398 1150 C1404.3 1144.2 1414.7 1145.8 1430 1145 C1445.3 1144.2 1466.3 1146.7 1490 1145 C1513.7 1143.3 1549.2 1139 1572 1135 C1594.8 1131 1604.3 1126.2 1627 1121 C1649.7 1115.8 1685.3 1108.8 1708 1104 C1730.7 1099.2 1739.3 1097.7 1763 1092 C1786.7 1086.3 1835.5 1067.3 1850 1070 C1864.5 1072.7 1864.5 1099 1850 1108 C1835.5 1117 1786.7 1119 1763 1124 C1739.3 1129 1730.7 1131.7 1708 1138 C1685.3 1144.3 1649.7 1154.7 1627 1162 C1604.3 1169.3 1588 1175.8 1572 1182 C1556 1188.2 1549.2 1194.3 1531 1199 C1512.8 1203.7 1484.8 1208.5 1463 1210 C1441.2 1211.5 1411.8 1213 1400 1208 C1388.2 1203 1392.3 1189.7 1392 1180Z" fill="#4aaaff" filter="url(#b2)"/>
<path d="M318 1053 C321.3 1050 327.7 1047.8 340 1046 C352.3 1044.2 377 1041 392 1042 C407 1043 417.7 1046.7 430 1052 C442.3 1057.3 454 1067.3 466 1074 C478 1080.7 493.7 1086.3 502 1092 C510.3 1097.7 516.7 1103.3 516 1108 C515.3 1112.7 505.7 1118.3 498 1120 C490.3 1121.7 479 1121.3 470 1118 C461 1114.7 450.7 1106 444 1100 C437.3 1094 435.7 1085.7 430 1082 C424.3 1078.3 418.3 1080.5 410 1078 C401.7 1075.5 391.7 1069 380 1067 C368.3 1065 350 1066.5 340 1066 C330 1065.5 323.7 1066.2 320 1064 C316.3 1061.8 314.7 1056 318 1053Z" fill="#3a9cff" filter="url(#tC)"/>
<path d="M318 1053 C321.3 1050 327.7 1047.8 340 1046 C352.3 1044.2 377 1041 392 1042 C407 1043 417.7 1046.7 430 1052 C442.3 1057.3 454 1067.3 466 1074 C478 1080.7 493.7 1086.3 502 1092 C510.3 1097.7 516.7 1103.3 516 1108 C515.3 1112.7 505.7 1118.3 498 1120 C490.3 1121.7 479 1121.3 470 1118 C461 1114.7 450.7 1106 444 1100 C437.3 1094 435.7 1085.7 430 1082 C424.3 1078.3 418.3 1080.5 410 1078 C401.7 1075.5 391.7 1069 380 1067 C368.3 1065 350 1066.5 340 1066 C330 1065.5 323.7 1066.2 320 1064 C316.3 1061.8 314.7 1056 318 1053Z" fill="#1a70f0" filter="url(#b2)" opacity="0.5"/>
<path d="M164 1070 C167.5 1064.7 178.2 1067.3 185 1068 C191.8 1068.7 197.2 1072.5 205 1074 C212.8 1075.5 226.8 1074.7 232 1077 C237.2 1079.3 240.5 1085.5 236 1088 C231.5 1090.5 213.5 1090.3 205 1092 C196.5 1093.7 191.8 1096.7 185 1098 C178.2 1099.3 167.5 1104.7 164 1100 C160.5 1095.3 160.5 1075.3 164 1070Z" fill="#60b8ff" filter="url(#tC)"/>
<path d="M164 1072 C167.5 1067.7 178.2 1070.3 185 1071 C191.8 1071.7 197.5 1074.5 205 1076 C212.5 1077.5 225.5 1078.3 230 1080 C234.5 1081.7 236.2 1084.5 232 1086 C227.8 1087.5 212.8 1087.5 205 1089 C197.2 1090.5 191.8 1093.7 185 1095 C178.2 1096.3 167.5 1100.8 164 1097 C160.5 1093.2 160.5 1076.3 164 1072Z" fill="#3a9cff" filter="url(#b2)" opacity="0.7"/>
<path d="M164 1074 C166.7 1070.7 174.8 1072.3 180 1073 C185.2 1073.7 193.3 1074.8 195 1078 C196.7 1081.2 193.3 1089.3 190 1092 C186.7 1094.7 179.3 1093.8 175 1094 C170.7 1094.2 165.8 1096.3 164 1093 C162.2 1089.7 161.3 1077.3 164 1074Z" fill="#e0f2ff" filter="url(#b1)"/>
<path d="M190 1076 C193.8 1073.8 208 1076.3 215 1077 C222 1077.7 229.5 1078.2 232 1080 C234.5 1081.8 233.3 1086.3 230 1088 C226.7 1089.7 218.3 1089.7 212 1090 C205.7 1090.3 195.7 1092.3 192 1090 C188.3 1087.7 186.2 1078.2 190 1076Z" fill="#a0d4ff" filter="url(#tC)"/>
<path d="M255 1068 C258.2 1065 268.8 1064 275 1064 C281.2 1064 289.5 1065 292 1068 C294.5 1071 293.7 1079 290 1082 C286.3 1085 275.7 1086 270 1086 C264.3 1086 258.5 1085 256 1082 C253.5 1079 251.8 1071 255 1068Z" fill="#50b0ff" filter="url(#tC)"/>
<path d="M296 1060 C298.3 1056.3 307 1053.7 312 1052 C317 1050.3 323.3 1047.7 326 1050 C328.7 1052.3 330.3 1061.7 328 1066 C325.7 1070.3 317 1074.7 312 1076 C307 1077.3 300.7 1076.7 298 1074 C295.3 1071.3 293.7 1063.7 296 1060Z" fill="#50b0ff" filter="url(#tC)"/>
<path d="M164 1076 C175 1074.5 213.7 1079.7 230 1079 C246.3 1078.3 250.3 1074.8 262 1072 C273.7 1069.2 289.3 1065 300 1062 C310.7 1059 321.7 1054 326 1054 C330.3 1054 330.3 1059 326 1062 C321.7 1065 310.7 1068.7 300 1072 C289.3 1075.3 273.7 1079.7 262 1082 C250.3 1084.3 246.3 1085 230 1086 C213.7 1087 175 1089.7 164 1088 C153 1086.3 153 1077.5 164 1076Z" fill="#1a60e0" filter="url(#b2)" opacity="0.35"/>
<path d="M1399 1180 C1399 1172.8 1398.7 1162.5 1403 1158 C1407.3 1153.5 1410.5 1154.2 1425 1153 C1439.5 1151.8 1465.5 1153.2 1490 1151 C1514.5 1148.8 1549.2 1144 1572 1140 C1594.8 1136 1604.3 1132 1627 1127 C1649.7 1122 1685.3 1114.7 1708 1110 C1730.7 1105.3 1739.3 1104.7 1763 1099 C1786.7 1093.3 1835.5 1075.2 1850 1076 C1864.5 1076.8 1864.5 1096.7 1850 1104 C1835.5 1111.3 1786.7 1115 1763 1120 C1739.3 1125 1730.7 1127.7 1708 1134 C1685.3 1140.3 1649.7 1150.7 1627 1158 C1604.3 1165.3 1588 1171.8 1572 1178 C1556 1184.2 1549.2 1190.3 1531 1195 C1512.8 1199.7 1481.5 1204.2 1463 1206 C1444.5 1207.8 1430 1206.8 1420 1206 C1410 1205.2 1406.5 1205.3 1403 1201 C1399.5 1196.7 1399 1187.2 1399 1180Z" fill="#fff" filter="url(#b1)"/>
<path d="M325 1052.5 C328.3 1050.8 338.2 1050.8 345 1050 C351.8 1049.2 358.7 1048.5 366 1048 C373.3 1047.5 382.7 1046.9 389 1047 C395.3 1047.1 399.2 1047.3 404 1048.5 C408.8 1049.7 413.3 1051.7 418 1054 C422.7 1056.3 426.7 1059.2 432 1062.5 C437.3 1065.8 444 1069.8 450 1073.5 C456 1077.2 463 1081.1 468 1084.5 C473 1087.9 477 1090.8 480 1094 C483 1097.2 485 1101.2 486 1104 C487 1106.8 487.7 1109.5 486 1111 C484.3 1112.5 480.2 1113.3 476 1113 C471.8 1112.7 465.2 1110.8 461 1109 C456.8 1107.2 454 1105 451 1102 C448 1099 445.5 1094.8 443 1091 C440.5 1087.2 439 1083 436 1079 C433 1075 429.3 1070.5 425 1067 C420.7 1063.5 415.2 1059.4 410 1058 C404.8 1056.6 401.3 1058.5 394 1058.5 C386.7 1058.5 374.2 1057.8 366 1058 C357.8 1058.2 351.8 1059.1 345 1059.5 C338.2 1059.9 328.3 1061.7 325 1060.5 C321.7 1059.3 321.7 1054.2 325 1052.5Z" fill="#fff" filter="url(#b1)"/>
<path d="M396 1066 C398.5 1065 406.7 1066.8 412 1068 C417.3 1069.2 423.2 1071 428 1073 C432.8 1075 439 1077.8 441 1080 C443 1082.2 442.2 1086 440 1086 C437.8 1086 432.7 1081.7 428 1080 C423.3 1078.3 417.2 1077 412 1076 C406.8 1075 399.7 1075.7 397 1074 C394.3 1072.3 393.5 1067 396 1066Z" fill="#fff" filter="url(#b1)"/>
<path d="M478 1090Q511.5 1094.0 545 1102M482 1100Q521.0 1105.0 560 1114M505 1095Q532.5 1099.5 560 1108M470 1076Q495.0 1081.0 520 1090" stroke="#3a9cff" stroke-width="2.2" stroke-opacity="0.75" fill="none" filter="url(#b1)"/>
<path d="M470 1114Q495.0 1115.0 520 1120M455 1128Q467.5 1128.0 480 1132M540 1110Q572.0 1109.0 604 1112M520 1100Q555.0 1104.0 590 1112" stroke="#1a64e0" stroke-width="2" fill="none" filter="url(#b1)"/>
<path d="M440 1141 L462 1146" stroke="#3a9cff" stroke-width="3" filter="url(#b1)"/>
<path d="M306 1265 C330 1267 350 1270 372 1274" stroke="#0a48d0" stroke-width="2" fill="none" filter="url(#b1)"/>
<path d="M1395.3 1104H1431.8M1383.9 1116H1411.2M1391.3 1120.5H1417.3M1304 1231.5H1429.2M1293.4 1240.2H1423.2M1201.6 1259.5H1283.8M1184.1 1264H1241" stroke="#0a40c0" stroke-width="1.6"/>
<path d="M1394.5 1108.3H1421M1233 1252.3H1327.2M1213.5 1256.1H1341M1137.2 1268.6H1201" stroke="#0a30a8" stroke-width="1.6"/>
<path d="M1385.7 1112H1415.9M1380.4 1124.8H1406.6M1322.5 1228.1H1383.9M1301.9 1235.7H1427.2M1278.2 1244.2H1406.5M1254.5 1248H1365.7M1117.7 1272.5H1224.6M1098.1 1275.9H1201.8M1091.8 1279.2H1147.2M1099.4 1283.5H1172.1" stroke="#062080" stroke-width="1.6"/>
<path d="M1379.3 1128.2H1400.7M1386.1 1132.2H1407.9M1384.2 1138.8H1419.2M1331 1215.1H1442.5" stroke="#0a58d8" stroke-width="1.6"/>
<path d="M1382.3 1135.5H1424.1M1381.1 1143.2H1408.5M1375.6 1160.8H1408.5M1363.4 1172.9H1395M1353.2 1185.2H1379.5M1341.9 1202.7H1374.7M1340.6 1207.3H1376.3M1320.8 1224H1428.2" stroke="#60b8ff" stroke-width="1.6"/>
<path d="M1376.7 1147.5H1418.5M1361.3 1169.5H1401.6M1358.9 1176.8H1399.6M1369.5 1180.8H1399.6M1350.6 1189.7H1380.9M1357.7 1198.4H1391.2M1341.3 1210.6H1377.9M1328.2 1219.4H1451.4" stroke="#2a80f0" stroke-width="1.6"/>
<path d="M1381.8 1151.8H1403.6M1378.5 1156.2H1401.7M1373.3 1165.1H1417.2M1349.1 1194H1393.9" stroke="#a8dcff" stroke-width="1.6"/>
<path d="M1740 1062 C1747.5 1051.3 1771.7 1040.7 1790 1030 C1808.3 1019.3 1840 988.8 1850 998 C1860 1007.2 1860 1069.3 1850 1085 C1840 1100.7 1807.5 1090.5 1790 1092 C1772.5 1093.5 1753.3 1099 1745 1094 C1736.7 1089 1732.5 1072.7 1740 1062Z" fill="#2a80f0" filter="url(#tC)" opacity="0.9"/>
<path d="M160 1294 C600 1293 1200 1294 1850 1295 L1850 1305 L160 1305Z" fill="#000" filter="url(#b1)"/>
</g>
<path d="M164.05 820.9H1836.5M164.05 874.3H1836.5M164.05 927.7H1836.5M164.05 981.1H1836.5M164.05 1034.5H1836.5M164.05 1087.9H1836.5M164.05 1141.3H1836.5M164.05 1194.7H1836.5M164.05 1248.1H1836.5" stroke="#fff" stroke-width="2.5" stroke-dasharray="3.6 7.345" fill="none"/>
<path d="M163.75 769V1301.5M233.45 769V1301.5M303.15 769V1301.5M372.84 769V1301.5M442.54 769V1301.5M512.24 769V1301.5M581.94 769V1301.5M651.64 769V1301.5M721.33 769V1301.5M791.03 769V1301.5M860.73 769V1301.5M930.43 769V1301.5M1000.12 769V1301.5M1069.82 769V1301.5M1139.52 769V1301.5M1209.22 769V1301.5M1278.92 769V1301.5M1348.61 769V1301.5M1418.31 769V1301.5M1488.01 769V1301.5M1557.71 769V1301.5M1627.41 769V1301.5M1697.1 769V1301.5M1766.8 769V1301.5M1836.5 769V1301.5" stroke="#fff" stroke-width="2.5" stroke-dasharray="3.1 7.92" fill="none"/>
<line x1="167" y1="781.1" x2="167" y2="1301.5" stroke="#0a5adc" stroke-width="3.8" stroke-dasharray="15.8 15.72"/>
<path d="M138.3 767.5H163.75M138.3 874.3H163.75M138.3 981.1H163.75M138.3 1087.9H163.75M138.3 1194.7H163.75M138.3 1301.5H163.75" stroke="#000" stroke-width="1.3" fill="none"/>
<path d="M151.2 778.18H163.75M151.2 788.86H163.75M151.2 799.54H163.75M151.2 810.22H163.75M151.2 820.9H163.75M151.2 831.58H163.75M151.2 842.26H163.75M151.2 852.94H163.75M151.2 863.62H163.75M151.2 884.98H163.75M151.2 895.66H163.75M151.2 906.34H163.75M151.2 917.02H163.75M151.2 927.7H163.75M151.2 938.38H163.75M151.2 949.06H163.75M151.2 959.74H163.75M151.2 970.42H163.75M151.2 991.78H163.75M151.2 1002.46H163.75M151.2 1013.14H163.75M151.2 1023.82H163.75M151.2 1034.5H163.75M151.2 1045.18H163.75M151.2 1055.86H163.75M151.2 1066.54H163.75M151.2 1077.22H163.75M151.2 1098.58H163.75M151.2 1109.26H163.75M151.2 1119.94H163.75M151.2 1130.62H163.75M151.2 1141.3H163.75M151.2 1151.98H163.75M151.2 1162.66H163.75M151.2 1173.34H163.75M151.2 1184.02H163.75M151.2 1205.38H163.75M151.2 1216.06H163.75M151.2 1226.74H163.75M151.2 1237.42H163.75M151.2 1248.1H163.75M151.2 1258.78H163.75M151.2 1269.46H163.75M151.2 1280.14H163.75M151.2 1290.82H163.75" stroke="#222" stroke-width="1.3" fill="none"/>
<path d="M163.75 1301.5V1309.5M233.45 1301.5V1305.5M303.15 1301.5V1305.5M372.84 1301.5V1305.5M442.54 1301.5V1305.5M512.24 1301.5V1305.5M581.94 1301.5V1309.5M651.64 1301.5V1305.5M721.33 1301.5V1305.5M791.03 1301.5V1305.5M860.73 1301.5V1305.5M930.43 1301.5V1305.5M1000.12 1301.5V1309.5M1069.82 1301.5V1305.5M1139.52 1301.5V1305.5M1209.22 1301.5V1305.5M1278.92 1301.5V1305.5M1348.61 1301.5V1305.5M1418.31 1301.5V1309.5M1488.01 1301.5V1305.5M1557.71 1301.5V1305.5M1627.41 1301.5V1305.5M1697.1 1301.5V1305.5M1766.8 1301.5V1305.5M1836.5 1301.5V1309.5" stroke="#111" stroke-width="1.2" fill="none"/>
<text x="129.6" y="789.9" text-anchor="end" class="tl">-40</text>
<text x="129.6" y="887.5" text-anchor="end" class="tl">-50</text>
<text x="129.6" y="994.3" text-anchor="end" class="tl">-60</text>
<text x="129.6" y="1101.1" text-anchor="end" class="tl">-70</text>
<text x="129.6" y="1207.9" text-anchor="end" class="tl">-80</text>
<text x="129.6" y="1301.3" text-anchor="end" class="tl">-90</text>
<text x="163.75" y="1355.5" text-anchor="middle" class="tl">0</text>
<text x="581.94" y="1355.5" text-anchor="middle" class="tl">90</text>
<text x="1000.12" y="1355.5" text-anchor="middle" class="tl">180</text>
<text x="1418.31" y="1355.5" text-anchor="middle" class="tl">270</text>
<text x="1836.5" y="1355.5" text-anchor="middle" class="tl">360</text>
<text transform="translate(999.3 1395) scale(1 1.045)" text-anchor="middle" class="al">SIII Longitude (<tspan font-size="16.5" dy="-17.6" dx="0.6">o</tspan><tspan dy="17.6" dx="0.6">)</tspan></text>
<text transform="translate(1000 750.95) scale(1 1.025)" text-anchor="middle" class="ti">Southern hemisphere</text>
<text transform="translate(47.5 1034) rotate(-90) scale(1 1.045)" text-anchor="middle" class="al">Latitude (<tspan font-size="16.5" dy="-17.6" dx="0.6">o</tspan><tspan dy="17.6" dx="0.6">)</tspan></text>
<defs><linearGradient id="cbg" x1="0" y1="0" x2="0" y2="1"><stop offset="0" stop-color="#eef8ff"/><stop offset="0.1" stop-color="#b8dcff"/><stop offset="0.2" stop-color="#5ab0ff"/><stop offset="0.3" stop-color="#0a84f8"/><stop offset="0.4" stop-color="#0064dc"/><stop offset="0.5" stop-color="#0040b4"/><stop offset="0.6" stop-color="#001c8c"/><stop offset="0.7" stop-color="#000a5a"/><stop offset="0.8" stop-color="#00043a"/><stop offset="0.9" stop-color="#00021c"/><stop offset="1" stop-color="#000008"/></linearGradient></defs>
<rect x="1851" y="1090.4" width="37.8" height="209.8" fill="url(#cbg)" stroke="#000" stroke-width="2.2"/>
<path d="M1852 1293h2M1888 1293h-2M1852 1286h2M1888 1286h-2M1852 1279h2M1888 1279h-2M1852 1272h3.5M1888 1272h-3.5M1852 1265h2M1888 1265h-2M1852 1258h2M1888 1258h-2M1852 1251h2M1888 1251h-2M1852 1244h3.5M1888 1244h-3.5M1852 1237h2M1888 1237h-2M1852 1230h2M1888 1230h-2M1852 1223h2M1888 1223h-2M1852 1216h3.5M1888 1216h-3.5M1852 1209h2M1888 1209h-2M1852 1202h2M1888 1202h-2M1852 1195h2M1888 1195h-2M1852 1188h3.5M1888 1188h-3.5M1852 1181h2M1888 1181h-2M1852 1174h2M1888 1174h-2M1852 1167h2M1888 1167h-2M1852 1160h3.5M1888 1160h-3.5M1852 1153h2M1888 1153h-2M1852 1146h2M1888 1146h-2M1852 1139h2M1888 1139h-2M1852 1132h3.5M1888 1132h-3.5M1852 1125h2M1888 1125h-2M1852 1118h2M1888 1118h-2M1852 1111h2M1888 1111h-2M1852 1104h3.5M1888 1104h-3.5M1852 1097h2M1888 1097h-2M1852 1090h2M1888 1090h-2" stroke="#000" stroke-width="1.5" fill="none"/>
<text x="1897.6" y="1282.4" class="cl">200</text>
<text x="1897.6" y="1254.4" class="cl">400</text>
<text x="1897.6" y="1226.4" class="cl">600</text>
<text x="1897.6" y="1198.4" class="cl">800</text>
<text x="1897.6" y="1170.4" class="cl">1000</text>
<text x="1897.6" y="1142.4" class="cl">1200</text>
<text x="1897.6" y="1114.4" class="cl">1400</text>
<text x="1838.5" y="1077.8" font-size="28.8px">kR H<tspan font-size="14" dy="4.2">2</tspan></text>
</svg>
</body></html>
